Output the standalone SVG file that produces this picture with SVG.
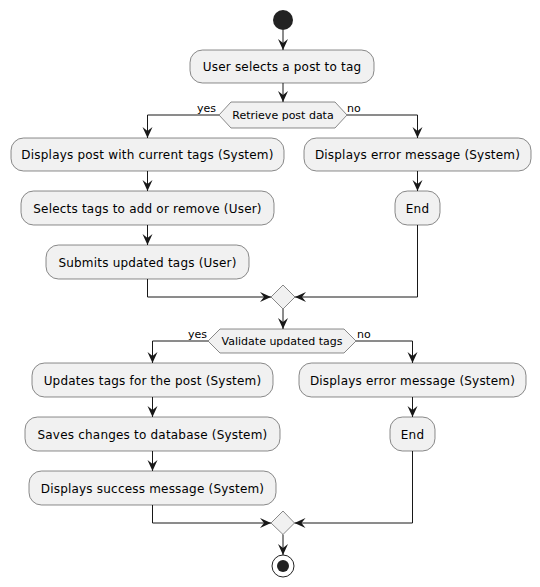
<svg xmlns="http://www.w3.org/2000/svg" width="540" height="587" viewBox="0 0 540 587">
<defs>
<style>
.act{fill:#F1F1F1;stroke:#181818;stroke-width:0.5}
.t{font-family:"DejaVu Sans",Verdana,sans-serif;font-size:12px;fill:#000;text-anchor:middle;letter-spacing:0.2px}
.ts{font-family:"DejaVu Sans",Verdana,sans-serif;font-size:11px;fill:#000;text-anchor:middle}
.lbl{font-family:"DejaVu Sans",Verdana,sans-serif;font-size:11px;fill:#000}
.c{fill:none;stroke:#181818;stroke-width:1;marker-end:url(#ah)}
</style>
<marker id="ah" markerUnits="userSpaceOnUse" markerWidth="12" markerHeight="11" refX="11" refY="5.5" orient="auto" viewBox="0 0 12 11">
<path d="M0,0.5 L11,5.5 L0,10.5 L4,5.5 Z" fill="#181818"/>
</marker>
</defs>
<rect width="540" height="587" fill="#FFFFFF"/>
<g id="connectors">
<path class="c" d="M283,30 V50"/>
<path class="c" d="M283,83 V102"/>
<path class="c" d="M219,115 H147.5 V138"/>
<path class="c" d="M147.5,171 V191"/>
<path class="c" d="M147.5,225 V245"/>
<path class="c" d="M147.5,279 V297 H271"/>
<path class="c" d="M347,115 H417.5 V138"/>
<path class="c" d="M417.5,171 V191"/>
<path class="c" d="M417.5,225 V297 H295"/>
<path class="c" d="M283,309 V329"/>
<path class="c" d="M208,341 H152.5 V363"/>
<path class="c" d="M152.5,397 V417"/>
<path class="c" d="M152.5,451 V471"/>
<path class="c" d="M152.5,505 V523 H271"/>
<path class="c" d="M356,341 H412.5 V363"/>
<path class="c" d="M412.5,397 V417"/>
<path class="c" d="M412.5,451 V523 H294.5"/>
<path class="c" d="M283,534.5 V555"/>
<text class="lbl" x="197" y="112">yes</text>
<text class="lbl" x="347" y="112">no</text>
<text class="lbl" x="188" y="338">yes</text>
<text class="lbl" x="357" y="338">no</text>
</g>
<g id="start"><circle cx="283" cy="20" r="10" fill="#222222"/></g>
<g id="n1"><rect class="act" x="190" y="50" width="184" height="33" rx="12.5"/><text class="t" x="282" y="71">User selects a post to tag</text></g>
<g id="d1"><polygon class="act" points="219,115 231,102 335,102 347,115 335,128 231,128"/><text class="ts" x="283" y="119">Retrieve post data</text></g>
<g id="n2"><rect class="act" x="11" y="138" width="273" height="33" rx="12.5"/><text class="t" x="147.5" y="159">Displays post with current tags (System)</text></g>
<g id="n3"><rect class="act" x="21" y="191" width="253" height="34" rx="12.5"/><text class="t" x="147.5" y="212.5">Selects tags to add or remove (User)</text></g>
<g id="n4"><rect class="act" x="46" y="245" width="203" height="34" rx="12.5"/><text class="t" x="147.5" y="266.5">Submits updated tags (User)</text></g>
<g id="n5"><rect class="act" x="304" y="138" width="227" height="33" rx="12.5"/><text class="t" x="417.5" y="159">Displays error message (System)</text></g>
<g id="n6"><rect class="act" x="395" y="191" width="45" height="34" rx="12.5"/><text class="t" x="417.5" y="212.5">End</text></g>
<g id="m1"><polygon class="act" points="283,285 295,297 283,309 271,297"/></g>
<g id="d2"><polygon class="act" points="208,341 220,329 344,329 356,341 344,353 220,353"/><text class="ts" x="282" y="345">Validate updated tags</text></g>
<g id="n7"><rect class="act" x="32" y="363" width="241" height="34" rx="12.5"/><text class="t" x="152.5" y="384.5">Updates tags for the post (System)</text></g>
<g id="n8"><rect class="act" x="25" y="417" width="255" height="34" rx="12.5"/><text class="t" x="152.5" y="438.5">Saves changes to database (System)</text></g>
<g id="n9"><rect class="act" x="29" y="471" width="247" height="34" rx="12.5"/><text class="t" x="152.5" y="492.5">Displays success message (System)</text></g>
<g id="n10"><rect class="act" x="299" y="363" width="227" height="34" rx="12.5"/><text class="t" x="412.5" y="384.5">Displays error message (System)</text></g>
<g id="n11"><rect class="act" x="390" y="417" width="45" height="34" rx="12.5"/><text class="t" x="412.5" y="438.5">End</text></g>
<g id="m2"><polygon class="act" points="283,511 294.5,523 283,534.5 271,523"/></g>
<g id="end"><circle cx="283" cy="566" r="11" fill="none" stroke="#222222" stroke-width="1"/><circle cx="283" cy="566" r="6" fill="#222222"/></g>
</svg>
